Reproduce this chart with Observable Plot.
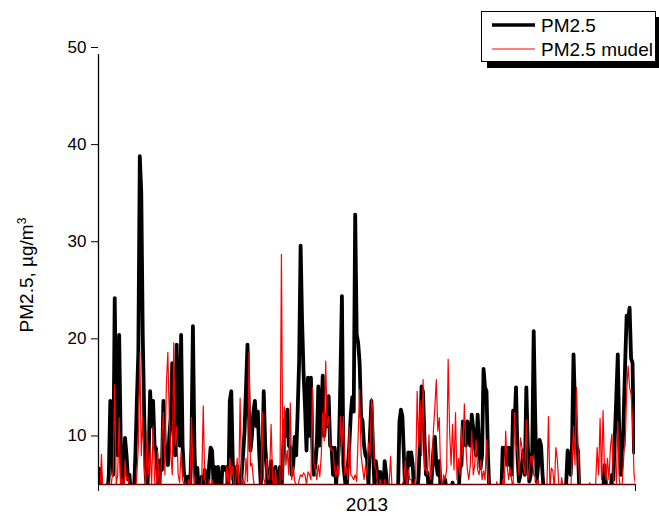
<!DOCTYPE html>
<html>
<head>
<meta charset="utf-8">
<script src="https://cdn.jsdelivr.net/npm/d3@7"></script>
<script src="https://cdn.jsdelivr.net/npm/@observablehq/plot@0.6"></script>
<style>
  html, body { margin: 0; padding: 0; background: #fff; }
  #chart svg { display: block; }
</style>
</head>
<body>
<div id="chart"></div>
<script>
// Daily PM2.5 over 2013 (µg/m³), one value per day of year (0..364).
// Values under 5 fall below the axis floor and are clipped away.
const pm25Observed = [
  6.6, 6.6, 4, 4, 4, 4, 4, 6, 13.6, 9,
  6, 24.2, 12, 8, 20.4, 10, 4, 6, 9.8, 8,
  5.5, 6, 4, 4, 4, 8, 13.6, 18.5, 38.8, 35,
  20.3, 12, 6, 4, 8, 14.6, 11, 13.6, 9, 8.7,
  6, 4, 7.5, 6.5, 13.6, 9, 8.8, 7, 10, 12,
  17.5, 10, 8, 19.4, 12, 9, 20.4, 9, 6, 5.8,
  4, 5.8, 4, 9, 21.3, 9, 4, 6.7, 4, 4,
  5.8, 4, 6.5, 5.8, 4, 7, 8.8, 8.5, 5, 6.8,
  4, 6.8, 4, 4, 6.8, 6.8, 6.5, 6.8, 4, 13.6,
  14.6, 7.5, 4, 5, 6.9, 4, 4, 6, 8, 10.5,
  15, 19.4, 12, 8.5, 10, 12.5, 13.6, 11, 12.5, 8,
  5, 6.9, 14.6, 9, 6.7, 4, 5, 7.4, 5, 4,
  6.8, 4, 5, 6.8, 4, 8, 11.6, 10, 12.7, 9,
  8.8, 6, 7, 9.9, 8, 12.5, 17.7, 29.6, 21.8, 16.5,
  13, 8.5, 16, 10, 16, 8.8, 6, 7, 9, 15.1,
  9, 12, 16.2, 10, 12, 11, 14.1, 9, 8.8, 6,
  8.8, 5, 6.8, 9, 16, 24.4, 7, 5.6, 4, 6.8,
  9, 12.2, 14, 12.5, 32.8, 20.5, 19.6, 17.5, 12, 11.5,
  9, 8, 7.7, 5, 10, 13.6, 9, 5, 7.4, 6,
  5, 6.3, 4, 4, 7.4, 6, 4, 4, 4, 4,
  4, 4, 4, 4, 11.5, 12.7, 12, 8, 4, 5,
  8.3, 7, 8.3, 7, 4, 4, 4, 6, 10, 15.1,
  14.5, 9.5, 6, 6.2, 4, 4, 6, 8.5, 9.9, 7,
  6, 7.4, 4, 4, 4, 5.5, 4, 4, 4, 4,
  5.2, 4, 4, 4, 4, 6.7, 7, 11.5, 11.3, 9,
  11.5, 10, 9, 12.2, 10.8, 9, 8, 12.2, 9, 6.7,
  8, 16.9, 15, 14.6, 8, 4, 4, 4, 4, 4,
  4, 4, 4, 4, 8.8, 8.5, 8.8, 7, 8.8, 8.5,
  6, 12.6, 11, 15, 8, 5.3, 6, 7, 8.5, 6,
  15, 9, 5.3, 6, 8.5, 20.8, 12, 5.3, 7, 9.6,
  9, 6, 4, 4, 4, 4, 4, 4, 4, 4,
  4, 4, 4, 4, 4, 4, 4, 5, 8.5, 7,
  6, 9.2, 18.4, 13, 9, 8.5, 4, 4, 4, 4,
  4, 4, 4, 4, 4, 4, 4, 4, 4, 4,
  4, 4, 4, 7, 5, 4, 4, 4, 6, 5.5,
  10, 14, 18.4, 10, 6, 7.5, 12, 17.5, 22.4, 22,
  23.2, 18, 17.5, 8.3, 8.3
];

const pm25Model = [
  4, 4, 8.1, 4, 4, 4, 4, 5.2, 4, 5.5,
  6.5, 15.3, 5, 6, 11.9, 5, 5.6, 4, 7.5, 5.5,
  5.8, 4, 4, 4, 4, 4, 6, 9, 18.6, 8,
  11.9, 6.7, 5, 10.5, 6, 8.5, 5, 11, 5.5, 4,
  8.5, 5.5, 4, 10, 12.4, 6, 15.3, 18.6, 11.9, 8,
  6, 19.6, 9, 11, 6, 5.2, 8.5, 5.5, 5, 5.2,
  4, 5.5, 4, 11.9, 6.7, 5.5, 4, 4, 4, 4.5,
  5.5, 13.1, 5.5, 5, 4, 5.5, 4.5, 5.5, 4, 4,
  4, 4.5, 4, 4, 4, 5, 4, 6.9, 5.2, 7.7,
  5.5, 6.9, 4.5, 5.5, 7.7, 4.5, 13.9, 5, 5.6, 4.5,
  7.7, 5.3, 18.6, 6.9, 7.2, 5.5, 4.5, 4, 4.5, 4,
  4.5, 12.4, 5.6, 5, 7.7, 5.5, 6, 11.2, 5.5, 4.5,
  6.5, 4.5, 5, 4.5, 28.7, 5.5, 13, 7, 8.5, 6,
  13.4, 5.5, 6.9, 5.3, 5, 4.5, 5.5, 6, 5.8, 6.2,
  6, 5, 6.3, 6, 5.5, 15, 7.2, 6.5, 5.5, 7,
  5.8, 8, 12.4, 9.5, 17.7, 11, 12, 8.8, 8.5, 8.5,
  6.5, 5.8, 7, 6, 12, 9, 12, 6, 6.8, 5.5,
  10.9, 6, 5.8, 5.5, 6, 5.3, 10, 14.8, 8, 6.7,
  5.5, 7, 6, 9.3, 8, 13.9, 12.7, 7, 6.7, 5.2,
  4.5, 5.5, 4.7, 4.5, 5.5, 4, 4, 5, 7.9, 4.5,
  4, 4, 4, 4, 4, 4.5, 5, 5.5, 7.5, 4.5,
  6.5, 5.5, 5.5, 4.5, 5, 5.8, 14.6, 9, 13.6, 8,
  15.8, 6.5, 6.7, 6, 10.1, 5.5, 6.5, 10.5, 13, 15.8,
  10.5, 11.9, 5.5, 5, 6, 5.5, 6.6, 17.9, 10.5, 7,
  11.2, 6.5, 12.4, 5.5, 7.7, 6, 11, 8, 13.3, 9,
  6.6, 5.5, 7, 10.5, 6, 7, 9.6, 6.5, 6, 7.5,
  5.5, 6.4, 5.5, 9.6, 6, 4.5, 4, 4, 4, 4,
  5.3, 4, 4, 4, 5.5, 4.5, 10.5, 7, 5.5, 6.7,
  5.5, 4.5, 12.4, 9, 8.5, 6, 9.8, 8.8, 7, 6,
  11.7, 5.5, 6.5, 7.9, 7.9, 6, 5.8, 5, 5.5, 4.5,
  4, 4, 4, 4, 5, 12, 4.5, 6.7, 6.4, 4.5,
  8.8, 7.6, 5, 4.5, 5.7, 4.5, 4, 4, 4, 4,
  4, 7.5, 11, 7, 15, 9, 5.5, 4, 4, 4,
  4, 4, 4, 5.2, 4, 4, 4, 5, 8.8, 6,
  11.8, 5.5, 12.6, 6.5, 5.5, 7.7, 5.5, 8.8, 10.2, 5.5,
  4, 5, 11.5, 5.5, 4.5, 5, 8.5, 9, 14.5, 17.2,
  15, 14.3, 11.5, 6, 5
];

const yTicks = [10, 20, 30, 40, 50];
const yearLabel = "2013";
const seriesNames = ["PM2.5", "PM2.5 mudel"];
const seriesColors = ["#000000", "#ff0000"];

const lastDay = pm25Observed.length - 1;
const font = "'Liberation Sans', Arial, Helvetica, sans-serif";

const chart = Plot.plot({
  width: 659,
  height: 516,
  marginLeft: 98,
  marginRight: 24,
  marginTop: 47,
  marginBottom: 32,
  style: { fontFamily: font, background: "#fff", color: "#000" },
  x: { domain: [0, lastDay] },
  y: { domain: [5, 50] },
  marks: [
    Plot.lineY(pm25Observed, {
      stroke: seriesColors[0], strokeWidth: 3.8,
      strokeLinejoin: "round", strokeLinecap: "round", clip: true
    }),
    Plot.lineY(pm25Model, {
      stroke: seriesColors[1], strokeWidth: 1.2, clip: true
    }),
    Plot.ruleY([5], { stroke: "#6a0000", strokeWidth: 1.6 }),
    Plot.ruleX([0], { y1: 5, y2: 50, insetBottom: -7, stroke: "#000", strokeWidth: 1.3 }),
    Plot.axisY({ ticks: yTicks, tickSize: 7, tickPadding: 5, fontSize: 17, label: null }),
    Plot.axisX({ ticks: [0, lastDay], tickSize: 7, tickFormat: () => "", label: null }),
    Plot.axisX({
      ticks: [lastDay / 2], tickSize: 0, tickPadding: 13,
      tickFormat: () => yearLabel, fontSize: 19, label: null
    })
  ]
});

const svg = d3.select(chart);

// Y axis title with superscript unit
const yTitle = svg.append("text")
  .attr("transform", "translate(33,275) rotate(-90)")
  .attr("text-anchor", "middle")
  .attr("font-family", font)
  .attr("font-size", 19)
  .attr("fill", "#000");
yTitle.append("tspan").text("PM2.5, µg/m");
yTitle.append("tspan").attr("dy", "-0.55em").attr("font-size", 12).text("3");

// Legend box with drop shadow
const legend = svg.append("g").attr("text-anchor", "start");
legend.append("rect")
  .attr("x", 487).attr("y", 17).attr("width", 180).attr("height", 51)
  .attr("fill", "#000");
legend.append("rect")
  .attr("x", 481.5).attr("y", 11.5).attr("width", 174).attr("height", 50)
  .attr("fill", "#fff").attr("stroke", "#000").attr("stroke-width", 1);
seriesNames.forEach((name, i) => {
  const cy = 25 + i * 24;
  legend.append("line")
    .attr("x1", 492).attr("x2", 535).attr("y1", cy).attr("y2", cy)
    .attr("stroke", seriesColors[i]).attr("stroke-width", i === 0 ? 3.5 : 1.2);
  legend.append("text")
    .attr("x", 541).attr("y", cy + 7)
    .attr("text-anchor", "start")
    .attr("font-family", font).attr("font-size", 19).attr("fill", "#000")
    .text(name);
});

document.getElementById("chart").appendChild(chart);
</script>
</body>
</html>
